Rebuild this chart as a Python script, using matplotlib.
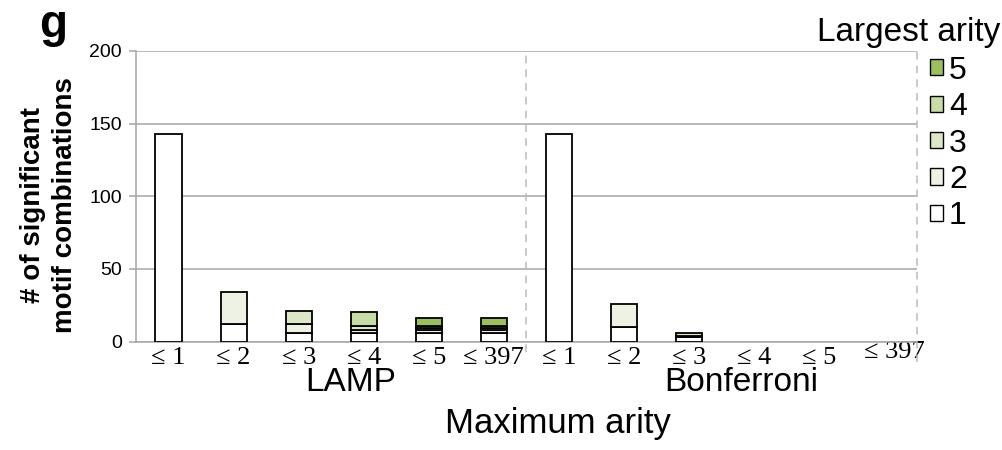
import matplotlib
matplotlib.use('Agg')
import matplotlib.pyplot as plt
import matplotlib.transforms as mtransforms
from matplotlib.patches import Patch
import numpy as np

plt.rcParams['font.family'] = ['Liberation Sans', 'DejaVu Sans']

# Maximum arity groups for the two correction methods
tick_labels = ['≤ 1', '≤ 2', '≤ 3', '≤ 4', '≤ 5', '≤ 397',
               '≤ 1', '≤ 2', '≤ 3', '≤ 4', '≤ 5', '≤ 397']
methods = ['LAMP', 'Bonferroni']

# number of significant combinations, split by largest arity
arity1 = [143, 12, 6, 6, 6, 6, 143, 10, 3, 0, 0, 0]
arity2 = [0, 22, 6, 2, 2, 2, 0, 16, 1, 0, 0, 0]
arity3 = [0, 0, 9, 3, 1, 1, 0, 0, 2, 0, 0, 0]
arity4 = [0, 0, 0, 9, 2, 2, 0, 0, 0, 0, 0, 0]
arity5 = [0, 0, 0, 0, 5, 5, 0, 0, 0, 0, 0, 0]
arity_names = ['1', '2', '3', '4', '5']
arity_colors = ['#FFFFFF', '#EEF2E4', '#DCE7C7', '#C8DAA5', '#9DBE5E']

fig = plt.figure(figsize=(10.02, 4.5), dpi=100)
ax = fig.add_axes([0.1357, 0.241, 0.7793, 0.646])

grey = '#A6A6A6'
x = np.arange(len(tick_labels))
bottom = np.zeros(len(x))
for vals, col in zip([arity1, arity2, arity3, arity4, arity5], arity_colors):
    vals = np.array(vals, dtype=float)
    m = vals > 0
    ax.bar(x[m], vals[m], bottom=bottom[m], width=0.4, color=col,
           edgecolor='black', linewidth=1.3, zorder=3)
    bottom += vals

ax.set_xlim(-0.5, 11.5)
ax.set_ylim(0, 200)
ax.set_yticks([0, 50, 100, 150, 200])
ax.yaxis.grid(True, color=grey, linewidth=1.1, zorder=0)
ax.set_axisbelow(True)
for s in ['top', 'right']:
    ax.spines[s].set_visible(False)
ax.spines['left'].set_color(grey)
ax.spines['bottom'].set_color(grey)
ax.spines['left'].set_linewidth(1.1)
ax.spines['bottom'].set_linewidth(1.1)
ax.tick_params(axis='y', colors=grey, labelcolor='black', labelsize=14,
               length=5, width=1.1, pad=5)
ax.set_xticks(x)
ax.set_xticklabels(tick_labels, family='Liberation Serif', fontsize=19)
ax.tick_params(axis='x', length=0, pad=4)
last = ax.get_xticklabels()[-1]
last.set_transform(last.get_transform() +
                   mtransforms.ScaledTranslation(0.1, 0.06, fig.dpi_scale_trans))

# dashed separators between the two methods and at the right edge
trans = mtransforms.blended_transform_factory(ax.transData, ax.transAxes)
ax.plot([5.5, 5.5], [-0.035, 1.0], transform=trans, color='#BBBBBB',
        linestyle=(0, (5, 4)), linewidth=1.1, clip_on=False)
ax.plot([11.5, 11.5], [-0.07, 1.0], transform=trans, color='#BBBBBB',
        linestyle=(0, (5, 4)), linewidth=1.1, clip_on=False)

# method names under each group
ax.text(2.8, -0.142, methods[0], transform=trans, ha='center', va='center',
        fontsize=24)
ax.text(8.8, -0.142, methods[1], transform=trans, ha='center', va='center',
        fontsize=24)
fig.text(0.557, 0.058, 'Maximum arity', ha='center', va='center', fontsize=25)

fig.text(0.049, 0.545, '# of significant\nmotif combinations', rotation=90,
         ha='center', va='center', fontsize=20, fontweight='bold',
         linespacing=1.3)
fig.text(0.053, 0.945, 'g', ha='center', va='center', fontsize=33,
         fontweight='bold')

fig.text(0.998, 0.928, 'Largest arity', ha='right', va='center', fontsize=24)
handles = [Patch(facecolor=c, edgecolor='black', linewidth=1.0)
           for c in arity_colors][::-1]
ax.legend(handles, arity_names[::-1], loc='upper left',
          bbox_to_anchor=(0.928, 0.876), bbox_transform=fig.transFigure,
          frameon=False, fontsize=23, handlelength=0.4, handleheight=0.4,
          handletextpad=0.2, labelspacing=0.2, borderaxespad=0,
          borderpad=0)

fig.savefig('out.png', dpi=100)
